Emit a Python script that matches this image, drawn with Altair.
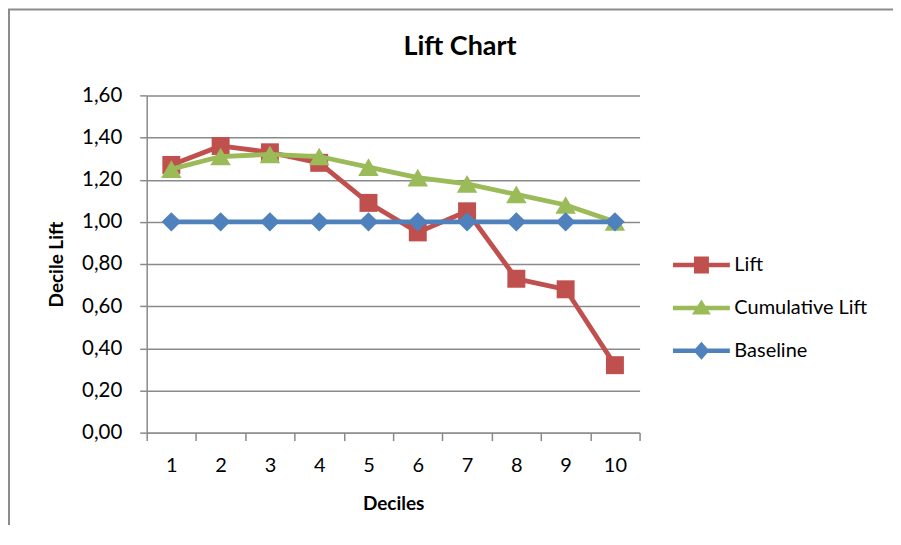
import altair as alt
import pandas as pd

deciles = [1, 2, 3, 4, 5, 6, 7, 8, 9, 10]
lift = [1.27, 1.36, 1.33, 1.28, 1.09, 0.95, 1.05, 0.73, 0.68, 0.32]
cumulative_lift = [1.25, 1.31, 1.32, 1.31, 1.26, 1.21, 1.18, 1.13, 1.08, 1.00]
baseline = [1.00, 1.00, 1.00, 1.00, 1.00, 1.00, 1.00, 1.00, 1.00, 1.00]
series_names = ["Lift", "Cumulative Lift", "Baseline"]
series_colors = ["#C0504D", "#9BBB59", "#4F81BD"]
series_shapes = ["square", "triangle-up", "diamond"]
y_ticks = [0.0, 0.2, 0.4, 0.6, 0.8, 1.0, 1.2, 1.4, 1.6]

values = {"Lift": lift, "Cumulative Lift": cumulative_lift, "Baseline": baseline}
rows = []
for name in series_names:
    for d, v in zip(deciles, values[name]):
        rows.append({"decile": d, "value": v, "series": name})
df = pd.DataFrame(rows)

W, H = 494, 338
FONT = "Lato"
GRAY = "#8a8a8a"

# legend glyphs: line + marker, in the custom symbol box
line_p = "M-1.14,-0.09 L1.14,-0.09 L1.14,0.09 L-1.14,0.09 Z"
sq_p = "M-0.3,-0.34 L0.3,-0.34 L0.3,0.34 L-0.3,0.34 Z"
tri_p = "M0,-0.34 L0.38,0.26 L-0.38,0.26 Z"
dia_p = "M0,-0.36 L0.32,0 L0,0.36 L-0.32,0 Z"
legend_paths = [line_p + " " + sq_p, line_p + " " + tri_p, line_p + " " + dia_p]

legend = alt.Legend(
    title=None,
    orient="none",
    legendX=531,
    legendY=145,
    padding=0,
    symbolSize=2500,
    symbolOpacity=1,
    symbolStrokeWidth=0,
    labelFont=FONT,
    labelFontSize=20,
    labelColor="#000000",
    labelOffset=8,
)

x_enc = alt.X(
    "decile:O",
    bandPosition=0.5,
    scale=alt.Scale(type="band", paddingInner=0, paddingOuter=0),
    axis=alt.Axis(
        title="Deciles",
        tickBand="extent",
        labelAngle=0,
        grid=False,
        domainColor=GRAY,
        domainWidth=1.5,
        tickColor=GRAY,
        tickWidth=1.5,
        tickSize=8,
        labelPadding=15,
        labelFont=FONT,
        labelFontSize=20,
        labelColor="#000000",
        titleFont=FONT,
        titleFontSize=19,
        titleFontWeight="bold",
        titleColor="#000000",
        titlePadding=19,
    ),
)
y_enc = alt.Y(
    "value:Q",
    scale=alt.Scale(domain=[0, 1.6], nice=False, zero=True),
    axis=alt.Axis(
        title="Decile Lift",
        values=y_ticks,
        labelExpr="replace(format(datum.value, '.2f'), '.', ',')",
        grid=True,
        gridColor=GRAY,
        gridWidth=1.5,
        domainColor=GRAY,
        domainWidth=1.5,
        tickColor=GRAY,
        tickWidth=1.5,
        tickSize=7,
        labelPadding=18,
        labelFont=FONT,
        labelFontSize=20.5,
        labelColor="#000000",
        titleFont=FONT,
        titleFontSize=19,
        titleFontWeight="bold",
        titleColor="#000000",
        titlePadding=15,
    ),
)

layers = []
for name, shape, col in zip(series_names, series_shapes, series_colors):
    sub = alt.Chart(df).transform_filter(alt.datum.series == name)
    line = sub.mark_line(strokeWidth=4.8, color=col).encode(x=x_enc, y=y_enc)
    size = {"square": 324, "triangle-up": 420, "diamond": 380}[shape]
    pts = sub.mark_point(filled=True, shape=shape, size=size, opacity=1, color=col).encode(
        x=x_enc, y=y_enc
    )
    layers += [line, pts]

# empty layer that only carries the legend (line + marker glyphs)
legend_layer = alt.Chart(df).transform_filter("false").mark_point(
    filled=True, opacity=1
).encode(
    x=x_enc,
    y=y_enc,
    color=alt.Color(
        "series:N", scale=alt.Scale(domain=series_names, range=series_colors), legend=legend
    ),
    shape=alt.Shape(
        "series:N",
        scale=alt.Scale(domain=series_names, range=legend_paths),
        legend=legend,
    ),
)

frame_df = pd.DataFrame({"b": [0]})
border_left = alt.Chart(frame_df).mark_rule(color="#8c8c8c", strokeWidth=2).encode(
    x=alt.value(-138), y=alt.value(-86), y2=alt.value(H + 300)
)
border_top = alt.Chart(frame_df).mark_rule(color="#8c8c8c", strokeWidth=2).encode(
    x=alt.value(-139), x2=alt.value(W + 400), y=alt.value(-86)
)

chart = alt.layer(border_left, border_top, *layers, legend_layer).properties(
    width=W,
    height=H,
    background="#ffffff",
    title=alt.TitleParams(
        "Lift Chart",
        font=FONT,
        fontSize=27,
        fontWeight="bold",
        color="#000000",
        anchor="middle",
        frame="group",
        dx=67,
        dy=74,
        baseline="alphabetic",
        offset=0,
    ),
    autosize=alt.AutoSizeParams(type="none"),
    padding={"left": 139, "top": 87, "right": 254, "bottom": 92},
).configure_view(stroke=None).configure_legend(rowPadding=8)

chart.save("out.html", embed_options={"renderer": "svg", "actions": False})
